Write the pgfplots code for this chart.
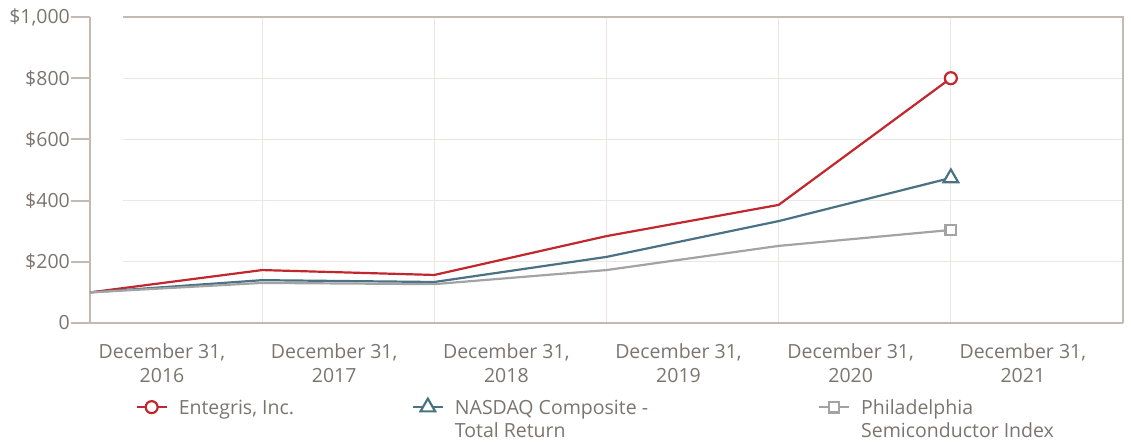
\documentclass[border=0pt]{standalone}
\usepackage{pgfplots}
\pgfplotsset{compat=1.18}
\usepackage{fontspec}
\setmainfont{Open Sans}
\definecolor{txt}{HTML}{7B746F}
\definecolor{axc}{HTML}{C3BAB2}
\definecolor{grd}{HTML}{EBE6E3}
\definecolor{cred}{HTML}{C1272D}
\definecolor{cblue}{HTML}{4A7285}
\definecolor{cgray}{HTML}{A3A3A5}
\begin{document}
\begin{tikzpicture}
\begin{axis}[
  scale only axis, width=1033pt, height=306pt,
  xmin=0, xmax=6, ymin=0, ymax=1000,
  clip=false,
  axis x line*=bottom, axis y line*=left,
  axis line style={axc, line width=2.2pt},
  xtick={0,1,2,3,4,5},
  xticklabels={{December 31,\\2016},{December 31,\\2017},{December 31,\\2018},{December 31,\\2019},{December 31,\\2020},{December 31,\\2021}},
  xticklabel style={align=center, xshift=72pt, yshift=2pt, font=\fontsize{19.5}{24}\selectfont, text=txt},
  x tick style={draw=none},
  xmajorgrids, x grid style={grd, line width=1pt},
  ytick={0,200,400,600,800,1000},
  yticklabels={{0},{\$200},{\$400},{\$600},{\$800},{\$1,000}},
  yticklabel style={font=\fontsize{19.5}{24}\selectfont, text=txt, inner sep=1pt},
  y tick style={axc, line width=2pt},
  tick align=outside, major tick length=19pt,
  legend columns=3,
  legend style={draw=none, fill=none, at={(axis description cs:0.041,-0.24)}, anchor=north west,
    font=\fontsize{19.5}{23}\selectfont, text=txt,
    nodes={inner sep=0pt, anchor=base west},
    /tikz/every odd column/.style={column sep=11pt},
    /tikz/every even column/.style={column sep=0pt}},
  legend cell align=left,
  legend image code/.code={\draw[mark=none] (0pt,7pt) -- (30pt,7pt); \draw[mark indices={1}] plot coordinates {(15pt,7pt)};},
]
\draw[grd, line width=1pt] (axis cs:0.19,200) -- (axis cs:6,200);
\draw[grd, line width=1pt] (axis cs:0.19,400) -- (axis cs:6,400);
\draw[grd, line width=1pt] (axis cs:0.19,600) -- (axis cs:6,600);
\draw[grd, line width=1pt] (axis cs:0.19,800) -- (axis cs:6,800);
\draw[axc, line width=2.2pt] (axis cs:0.19,1000) -- (axis cs:6,1000) -- (axis cs:6,0);
\path (rel axis cs:0,1) ++(-90pt,17pt);
\path (rel axis cs:1,0) ++(8pt,-118pt);

\addplot[cred, line width=2.2pt, mark=*, mark options={fill=white, line width=2.2pt}, mark size=6pt, mark indices={6}]
  coordinates {(0,100) (1,173) (2,157) (3,284) (4,386) (5,800)};
\addlegendentry{\parbox[t]{233pt}{Entegris, Inc.}}
\addplot[cblue, line width=2.2pt, mark=triangle*, mark options={fill=white, line width=2.2pt}, mark size=8.5pt, mark indices={6}]
  coordinates {(0,100) (1,140) (2,134) (3,216) (4,333) (5,474)};
\addlegendentry{\parbox[t]{363pt}{NASDAQ Composite -\\Total Return}}
\addplot[cgray, line width=2.2pt, mark=square*, mark options={fill=white, line width=2.2pt}, mark size=5.3pt, mark indices={6}]
  coordinates {(0,100) (1,131) (2,127) (3,173) (4,252) (5,304)};
\addlegendentry{\parbox[t]{250pt}{Philadelphia\\Semiconductor Index}}
\end{axis}
\end{tikzpicture}
\end{document}
